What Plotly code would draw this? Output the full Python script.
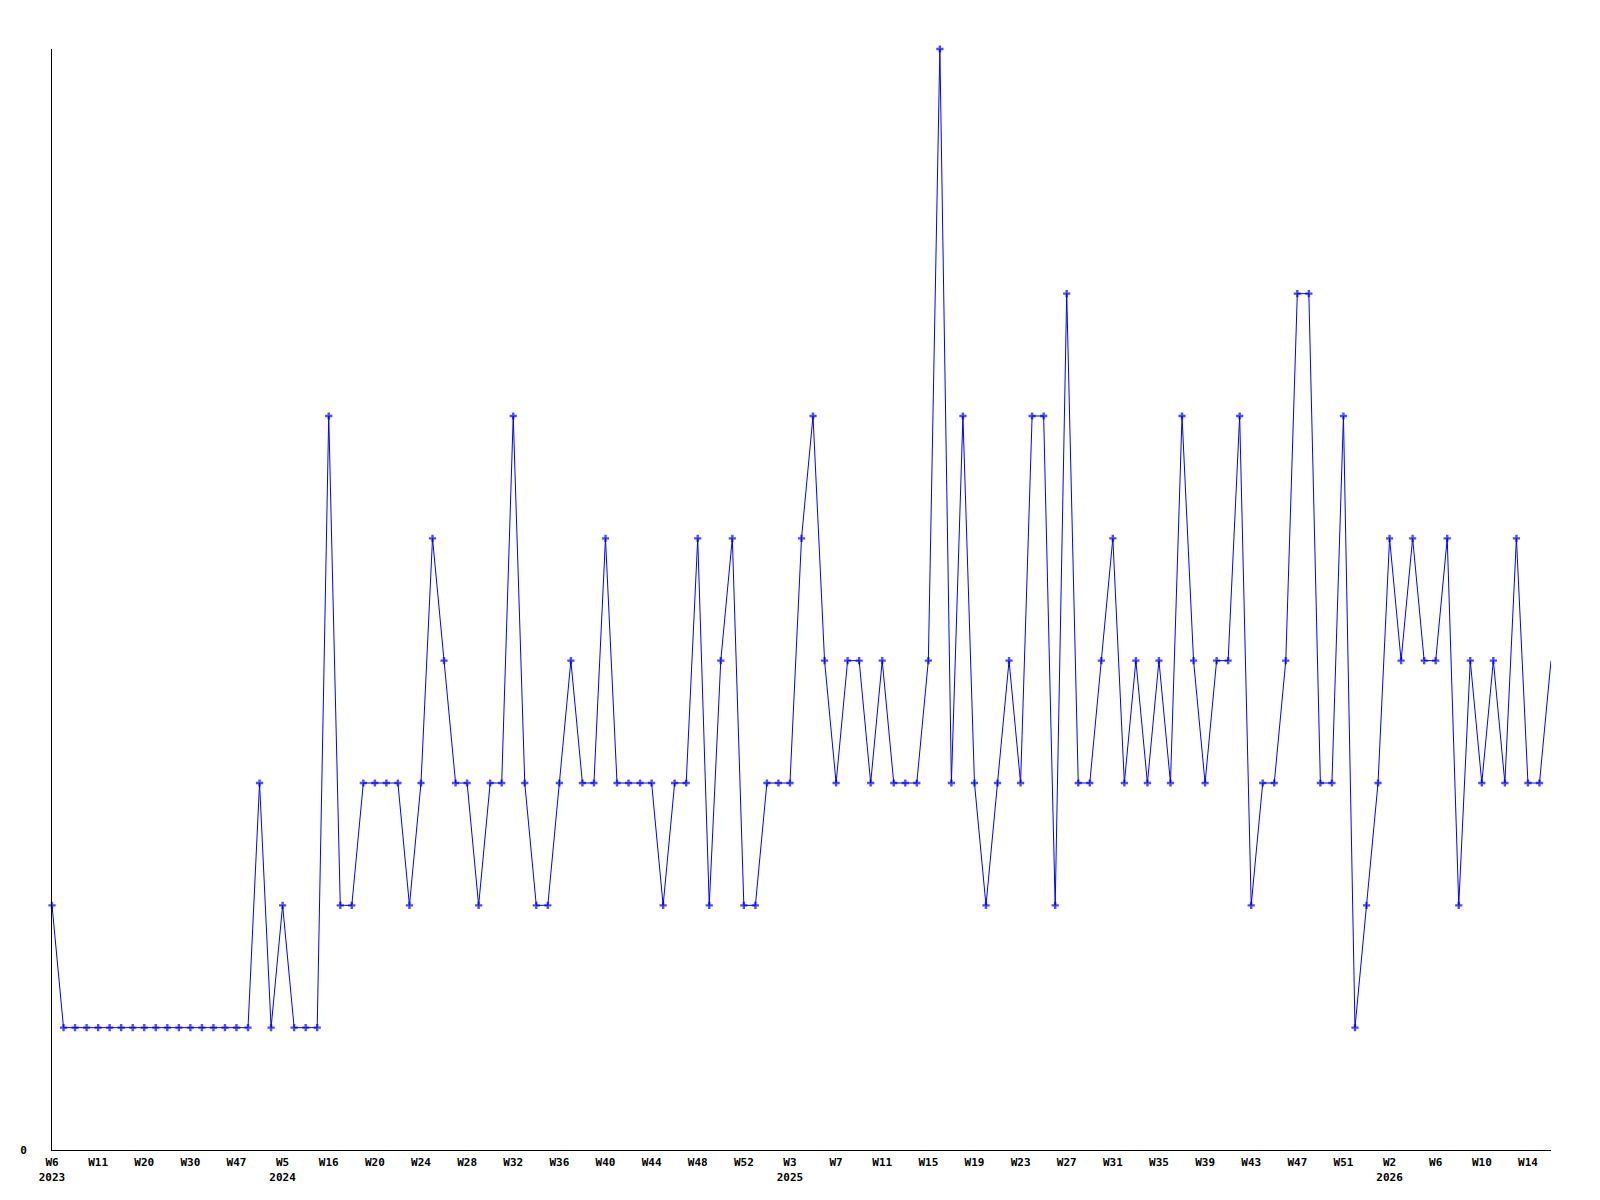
import plotly.graph_objects as go

# Week categories (one per data point)
weeks = (
    ["2023-W06", "2023-W07", "2023-W08", "2023-W09", "2023-W11", "2023-W13", "2023-W15",
     "2023-W17", "2023-W20", "2023-W22", "2023-W25", "2023-W28", "2023-W30", "2023-W33",
     "2023-W37", "2023-W42", "2023-W47", "2023-W49", "2023-W51", "2024-W02",
     "2024-W05", "2024-W08", "2024-W11", "2024-W13"]
    + [f"2024-W{w:02d}" for w in range(16, 54)]
    + ["2025-W01", "2025-W02"]
    + [f"2025-W{w:02d}" for w in range(3, 53)]
    + ["2026-W00", "2026-W01"]
    + [f"2026-W{w:02d}" for w in range(2, 17)]
)

values = [
    2, 1, 1, 1, 1, 1, 1, 1, 1, 1, 1, 1, 1, 1, 1, 1, 1, 1, 3, 1,
    2, 1, 1, 1, 6, 2, 2, 3, 3, 3, 3, 2, 3, 5, 4, 3, 3, 2, 3, 3,
    6, 3, 2, 2, 3, 4, 3, 3, 5, 3, 3, 3, 3, 2, 3, 3, 5, 2, 4, 5,
    2, 2, 3, 3, 3, 5, 6, 4, 3, 4, 4, 3, 4, 3, 3, 3, 4, 9, 3, 6,
    3, 2, 3, 4, 3, 6, 6, 2, 7, 3, 3, 4, 5, 3, 4, 3, 4, 3, 6, 4,
    3, 4, 4, 6, 2, 3, 3, 4, 7, 7, 3, 3, 6, 1, 2, 3, 5, 4, 5, 4,
    4, 5, 2, 4, 3, 4, 3, 5, 3, 3, 4,
]

tick_weeks = weeks[::4]
tick_labels = ["W6<br>2023", "W11", "W20", "W30", "W47", "W5<br>2024", "W16", "W20", "W24",
               "W28", "W32", "W36", "W40", "W44", "W48", "W52", "W3<br>2025", "W7", "W11",
               "W15", "W19", "W23", "W27", "W31", "W35", "W39", "W43", "W47", "W51",
               "W2<br>2026", "W6", "W10", "W14"]

n = len(values)
fig = go.Figure(
    go.Scatter(
        x=weeks, y=values, mode="lines+markers",
        line=dict(color="#0000ff", width=1),
        marker=dict(color="#0000ff", symbol="cross", size=[6] * (n - 1) + [0],
                    line=dict(width=0)),
        cliponaxis=False,
    )
)

font = dict(family="DejaVu Sans Mono", size=11, color="black", weight="bold")
fig.update_layout(
    width=1600, height=1200, autosize=False,
    margin=dict(l=42, r=57, t=41, b=58),
    paper_bgcolor="white", plot_bgcolor="white",
    showlegend=False,
    font=font,
)
fig.update_xaxes(
    type="category", categoryorder="array", categoryarray=weeks,
    range=[0, n - 1],
    tickmode="array", tickvals=tick_weeks, ticktext=tick_labels,
    showgrid=False, zeroline=False, showline=True, linecolor="black", linewidth=1,
    ticks="", tickfont=font, tickangle=0, ticklabelstandoff=2,
)
fig.update_yaxes(
    range=[0, 9], tickmode="array", tickvals=[0], ticktext=["0"],
    showgrid=False, zeroline=False, showline=True, linecolor="black", linewidth=1,
    ticks="", tickfont=font, ticklabelstandoff=22,
)

fig.write_html("out.html")
